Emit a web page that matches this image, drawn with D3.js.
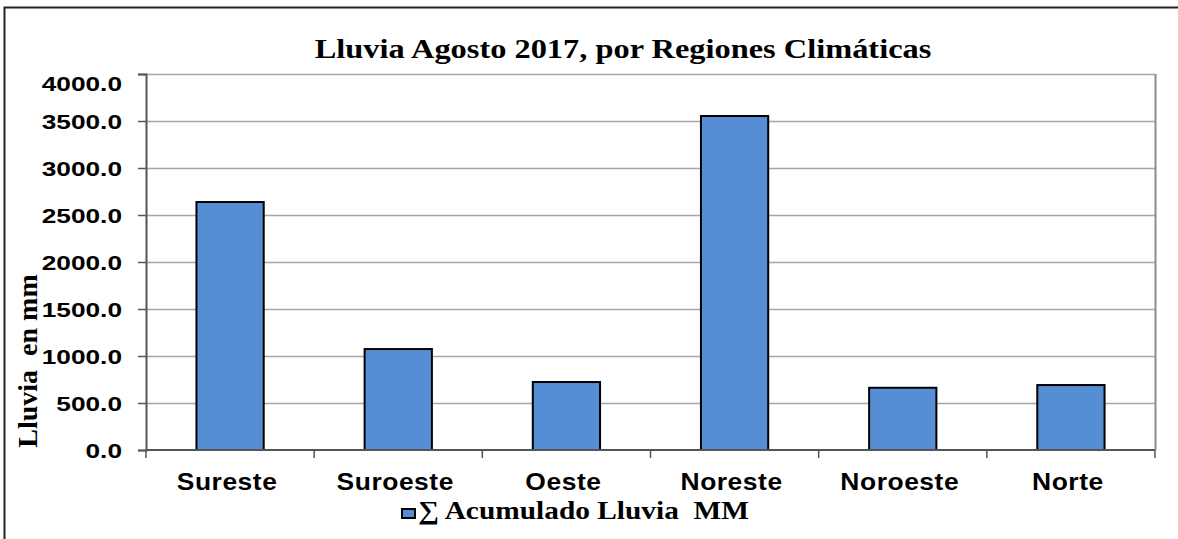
<!DOCTYPE html>
<html>
<head>
<meta charset="utf-8">
<script src="https://cdn.jsdelivr.net/npm/d3@7"></script>
<style>
  body { margin: 0; background: #fff; }
  svg { display: block; }
</style>
</head>
<body>
<svg id="chart"></svg>
<script>
var regiones = ["Sureste", "Suroeste", "Oeste", "Noreste", "Noroeste", "Norte"];
var lluvia = [2638, 1074, 723, 3553, 662, 691];
var yTicks = [0, 500, 1000, 1500, 2000, 2500, 3000, 3500, 4000];

var width = 1178,
    height = 539,
    margin = {top: 74, right: 23, bottom: 89, left: 146},
    sans = "Liberation Sans, Arial, sans-serif",
    serif = "Liberation Serif, Times New Roman, serif";

var svg = d3.select("svg#chart")
    .attr("width", width)
    .attr("height", height);

// texto estirado en horizontal, como la imagen original
function stretched_text(parent, x, y, sx, size, family, anchor, str) {
    var g = parent.append("g")
        .attr("transform", "translate(" + [x, y] + ") scale(" + sx + ",1)");
    return g.append("text")
        .attr("text-anchor", anchor)
        .attr("fill", "#000")
        .style("font-family", family)
        .style("font-weight", "bold")
        .style("font-size", size + "px")
        .style("white-space", "pre")
        .text(str);
}

// marco exterior
svg.append("path")
    .attr("d", "M4.5," + height + "V7.5H" + width)
    .attr("fill", "none")
    .attr("stroke", "#222")
    .attr("stroke-width", 2);

var x = d3.scaleBand()
    .domain(regiones)
    .range([margin.left, width - margin.right])
    .paddingInner(0.6)
    .paddingOuter(0.3);

var y = d3.scaleLinear()
    .domain([0, 4000])
    .range([height - margin.bottom, margin.top]);

var plot_g = svg.append("g");

// lineas de cuadricula
plot_g.selectAll("line.grid")
    .data(yTicks.slice(1))
    .enter()
    .append("line")
        .attr("class", "grid")
        .attr("x1", margin.left)
        .attr("x2", width - margin.right)
        .attr("y1", function(d) { return Math.round(y(d)) + 0.5; })
        .attr("y2", function(d) { return Math.round(y(d)) + 0.5; })
        .attr("stroke", "#a6a6a6")
        .attr("stroke-width", 1.5);

// borde derecho del area
plot_g.append("line")
    .attr("x1", width - margin.right + 0.5)
    .attr("x2", width - margin.right + 0.5)
    .attr("y1", margin.top)
    .attr("y2", height - margin.bottom)
    .attr("stroke", "#8c8c8c")
    .attr("stroke-width", 2);

plot_g.selectAll("rect.bar")
    .data(lluvia)
    .enter()
    .append("rect")
        .attr("class", "bar")
        .attr("x", function(d, i) { return x(regiones[i]); })
        .attr("y", function(d) { return y(d); })
        .attr("width", x.bandwidth())
        .attr("height", function(d) { return y(0) - y(d); })
        .attr("fill", "#558ed5")
        .attr("stroke", "#000")
        .attr("stroke-width", 2);

// eje y
var yAxis = svg.append("g")
    .attr("transform", "translate(" + [margin.left, 0] + ")")
    .call(d3.axisLeft(y)
        .tickValues(yTicks)
        .tickSize(8)
        .tickFormat(""));

yAxis.select(".domain").attr("stroke", "#555").attr("stroke-width", 2);
yAxis.selectAll(".tick line").attr("stroke", "#555").attr("stroke-width", 1.5);

var fmt = d3.format(".1f");
yTicks.forEach(function(d) {
    // la etiqueta superior queda un poco por debajo de su linea
    var ty = Math.max(y(d), 83) + 7.5;
    stretched_text(svg, 122, ty, 1.25, 21, sans, "end", fmt(d));
});

// eje x
var xEdges = d3.range(regiones.length + 1).map(function(i) {
    return margin.left + i * (width - margin.left - margin.right) / regiones.length;
});

svg.append("line")
    .attr("x1", margin.left)
    .attr("x2", width - margin.right)
    .attr("y1", y(0))
    .attr("y2", y(0))
    .attr("stroke", "#555")
    .attr("stroke-width", 2);

svg.selectAll("line.xtick")
    .data(xEdges)
    .enter()
    .append("line")
        .attr("class", "xtick")
        .attr("x1", function(d) { return d; })
        .attr("x2", function(d) { return d; })
        .attr("y1", y(0))
        .attr("y2", y(0) + 8)
        .attr("stroke", "#555")
        .attr("stroke-width", 1.5);

regiones.forEach(function(d) {
    stretched_text(svg, x(d) + x.bandwidth() / 2 - 3, y(0) + 40, 1.1, 24, sans, "middle", d)
        .style("letter-spacing", "0.5px");
});

// titulo
stretched_text(svg, 623, 58, 1.2, 27, serif, "middle",
    "Lluvia Agosto 2017, por Regiones Climáticas");

// titulo eje y
svg.append("text")
    .attr("transform", "translate(" + [37, 361] + ") rotate(-90)")
    .attr("text-anchor", "middle")
    .style("font-family", serif)
    .style("font-weight", "bold")
    .style("font-size", "28px")
    .style("white-space", "pre")
    .text("Lluvia  en mm");

// leyenda
var legend_g = svg.append("g")
    .attr("transform", "translate(" + [402, 509] + ")");

legend_g.append("rect")
    .attr("width", 13)
    .attr("height", 9)
    .attr("fill", "#558ed5")
    .attr("stroke", "#000")
    .attr("stroke-width", 2);

stretched_text(legend_g, 16, 10, 1.13, 26, serif, "start", "\u2211 Acumulado Lluvia  MM");
</script>
</body>
</html>
